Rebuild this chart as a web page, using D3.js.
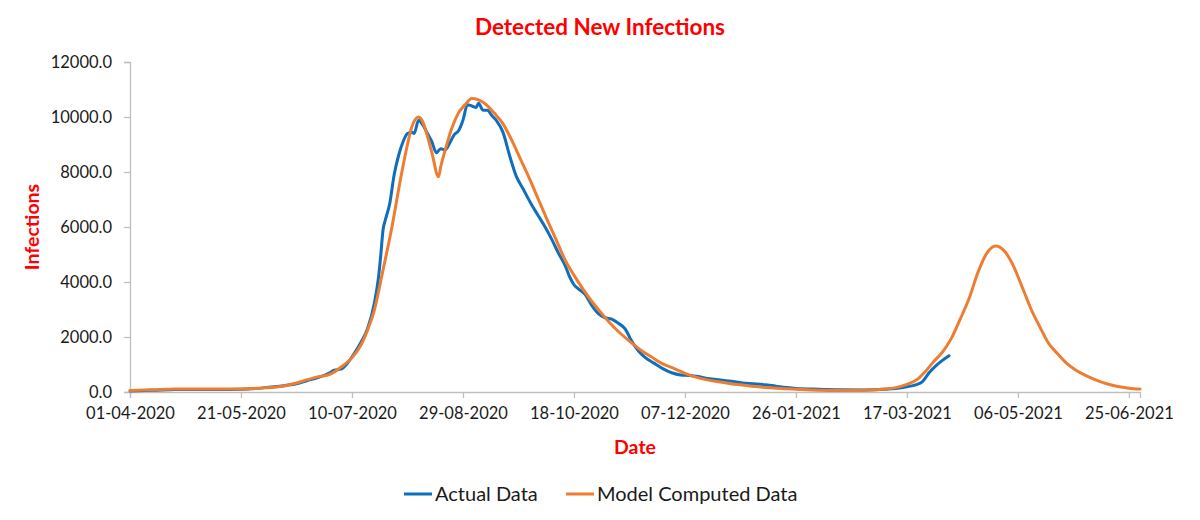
<!DOCTYPE html>
<html><head><meta charset="utf-8">
<script src="https://cdn.jsdelivr.net/npm/d3@7"></script>
<style>
html,body{margin:0;padding:0;background:#fff;}
svg{display:block;font-family:Lato, "Open Sans", sans-serif;}
</style></head>
<body><svg id="chart" width="1200" height="520"></svg>
<script>
const chartTitle = "Detected New Infections";
const xTitle = "Date";
const yTitle = "Infections";
const seriesNames = ["Actual Data", "Model Computed Data"];
const xTickLabels = ["01-04-2020","21-05-2020","10-07-2020","29-08-2020","18-10-2020","07-12-2020","26-01-2021","17-03-2021","06-05-2021","25-06-2021"];
const yTickValues = [0,2000,4000,6000,8000,10000,12000];
const xDomain = ["2020-04-01","2021-06-30"];

const actualDates = ["2020-04-01","2020-04-11","2020-04-21","2020-05-01","2020-05-11","2020-05-21","2020-05-31","2020-06-05","2020-06-10","2020-06-15","2020-06-20","2020-06-25","2020-06-30","2020-07-02","2020-07-05","2020-07-08","2020-07-11","2020-07-14","2020-07-17","2020-07-20","2020-07-22","2020-07-23","2020-07-24","2020-07-25","2020-07-27","2020-07-29","2020-07-31","2020-08-02","2020-08-04","2020-08-06","2020-08-07","2020-08-09","2020-08-11","2020-08-13","2020-08-15","2020-08-17","2020-08-19","2020-08-21","2020-08-23","2020-08-25","2020-08-27","2020-08-29","2020-08-31","2020-09-02","2020-09-04","2020-09-05","2020-09-07","2020-09-09","2020-09-11","2020-09-13","2020-09-16","2020-09-19","2020-09-22","2020-09-25","2020-09-29","2020-10-02","2020-10-05","2020-10-08","2020-10-11","2020-10-14","2020-10-16","2020-10-18","2020-10-20","2020-10-23","2020-10-26","2020-10-29","2020-11-01","2020-11-04","2020-11-07","2020-11-10","2020-11-13","2020-11-16","2020-11-19","2020-11-23","2020-11-27","2020-12-01","2020-12-05","2020-12-09","2020-12-13","2020-12-18","2020-12-23","2020-12-28","2021-01-02","2021-01-07","2021-01-12","2021-01-17","2021-01-22","2021-01-26","2021-02-05","2021-02-15","2021-02-25","2021-03-07","2021-03-12","2021-03-17","2021-03-21","2021-03-24","2021-03-27","2021-03-30","2021-04-02","2021-04-05"];
const actualValues = [40,60,90,95,90,100,150,190,240,300,420,530,700,790,830,1050,1400,1800,2300,3200,4200,5000,5900,6250,6850,7900,8600,9100,9400,9450,9400,9880,9700,9400,9100,8700,8850,8800,9050,9350,9500,9880,10450,10400,10350,10500,10250,10250,10050,9880,9450,8600,7850,7400,6800,6400,6000,5550,5050,4600,4200,3900,3750,3550,3150,2850,2700,2650,2500,2300,1850,1500,1260,1050,850,700,620,600,560,480,440,390,330,300,265,210,160,130,100,80,75,100,130,190,260,380,700,950,1150,1318];

const modelDates = ["2020-04-01","2020-04-11","2020-04-21","2020-05-01","2020-05-11","2020-05-21","2020-05-31","2020-06-05","2020-06-10","2020-06-15","2020-06-20","2020-06-25","2020-06-30","2020-07-05","2020-07-10","2020-07-14","2020-07-17","2020-07-20","2020-07-24","2020-07-28","2020-08-01","2020-08-04","2020-08-06","2020-08-09","2020-08-11","2020-08-13","2020-08-15","2020-08-18","2020-08-19","2020-08-21","2020-08-24","2020-08-27","2020-08-30","2020-09-02","2020-09-05","2020-09-08","2020-09-12","2020-09-16","2020-09-20","2020-09-24","2020-09-28","2020-10-02","2020-10-06","2020-10-10","2020-10-14","2020-10-18","2020-10-22","2020-10-26","2020-10-30","2020-11-03","2020-11-07","2020-11-12","2020-11-17","2020-11-22","2020-11-27","2020-12-02","2020-12-07","2020-12-12","2020-12-17","2020-12-22","2020-12-27","2021-01-01","2021-01-06","2021-01-11","2021-01-16","2021-01-21","2021-01-26","2021-02-05","2021-02-15","2021-02-25","2021-03-02","2021-03-07","2021-03-12","2021-03-17","2021-03-22","2021-03-25","2021-03-29","2021-04-02","2021-04-06","2021-04-10","2021-04-14","2021-04-18","2021-04-22","2021-04-26","2021-04-30","2021-05-04","2021-05-08","2021-05-12","2021-05-16","2021-05-20","2021-05-24","2021-05-28","2021-06-01","2021-06-05","2021-06-10","2021-06-15","2021-06-20","2021-06-25","2021-06-30"];
const modelValues = [58,80,105,110,105,110,150,175,230,327,450,560,640,900,1250,1700,2250,2950,4440,6000,7800,9000,9650,10000,9800,9300,8700,7826,8200,8800,9600,10150,10450,10670,10620,10480,10150,9760,9150,8450,7750,7000,6250,5530,4800,4250,3750,3300,2900,2530,2200,1850,1530,1270,1020,860,680,540,440,370,310,260,210,175,145,120,100,65,55,60,80,105,160,280,480,720,1100,1450,1950,2650,3400,4350,5050,5310,5120,4580,3800,3000,2350,1750,1380,1040,800,620,440,300,200,140,105];

const colors = ["#0F6EBE", "#ED7D31"];

const svg = d3.select("#chart");
const parseISO = d3.timeParse("%Y-%m-%d");
const parseTick = d3.timeParse("%d-%m-%Y");
const fmtTick = d3.timeFormat("%d-%m-%Y");

const x = d3.scaleTime().domain(xDomain.map(parseISO)).range([130, 1140]);
const y = d3.scaleLinear().domain([0, 12000]).range([392, 62]);

const axisColor = "#BFBFBF";
const textColor = "#1a1a1a";

// Y axis
const yAxis = svg.append("g").attr("transform", "translate(130,0)")
  .call(d3.axisLeft(y).tickValues(yTickValues).tickFormat(d3.format(".1f")).tickSize(6).tickPadding(12));
// X axis
const xAxis = svg.append("g").attr("transform", "translate(0,392)")
  .call(d3.axisBottom(x).tickValues(xTickLabels.map(parseTick)).tickFormat(fmtTick).tickSize(6).tickPadding(9));
[yAxis, xAxis].forEach(g => {
  g.select(".domain").attr("stroke", axisColor).attr("stroke-width", 1.3);
  g.selectAll(".tick line").attr("stroke", axisColor).attr("stroke-width", 1.3);
  g.selectAll(".tick text").attr("fill", textColor).style("font-size", "16.5px").style("font-family", "Lato, sans-serif");
});

// Lines
const line = d3.line().x(d => x(d.date)).y(d => y(d.value)).curve(d3.curveMonotoneX);
const actual = actualDates.map((d, i) => ({date: parseISO(d), value: actualValues[i]}));
const model = modelDates.map((d, i) => ({date: parseISO(d), value: modelValues[i]}));
svg.append("path").datum(actual).attr("d", line).attr("fill", "none")
  .attr("stroke", colors[0]).attr("stroke-width", 3).attr("stroke-linejoin", "round").attr("stroke-linecap", "round");
svg.append("path").datum(model).attr("d", line).attr("fill", "none")
  .attr("stroke", colors[1]).attr("stroke-width", 3).attr("stroke-linejoin", "round").attr("stroke-linecap", "round");

// Titles
svg.append("text").attr("x", 600).attr("y", 35).attr("text-anchor", "middle")
  .attr("fill", "#FF0000").style("font-weight", "bold").style("font-size", "22.5px").text(chartTitle);
svg.append("text").attr("x", 635).attr("y", 454).attr("text-anchor", "middle")
  .attr("fill", "#FF0000").style("font-weight", "bold").style("font-size", "19.5px").text(xTitle);
svg.append("text").attr("transform", "translate(39,227) rotate(-90)").attr("text-anchor", "middle")
  .attr("fill", "#FF0000").style("font-weight", "bold").style("font-size", "19.5px").text(yTitle);

// Legend
const legendItems = [{x: 404, name: seriesNames[0], color: colors[0]}, {x: 566, name: seriesNames[1], color: colors[1]}];
const lg = svg.append("g");
legendItems.forEach(it => {
  lg.append("line").attr("x1", it.x).attr("x2", it.x + 28).attr("y1", 494).attr("y2", 494)
    .attr("stroke", it.color).attr("stroke-width", 3);
  lg.append("text").attr("x", it.x + 31).attr("y", 501).attr("fill", textColor)
    .style("font-size", "20px").text(it.name);
});
</script></body></html>
